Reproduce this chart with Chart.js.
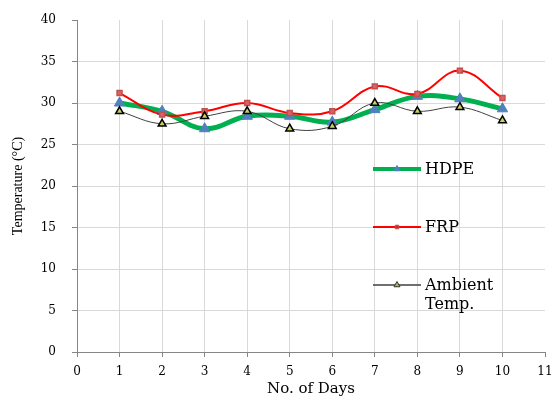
<!DOCTYPE html>
<html>
<head>
<meta charset="utf-8">
<script src="https://cdn.jsdelivr.net/npm/chart.js@4"></script>
<style>
  html, body { margin: 0; padding: 0; background: #fff; }
  #wrap { width: 553px; height: 404px; }
</style>
</head>
<body>
<div id="wrap"><canvas id="chart" width="553" height="404"></canvas></div>
<script>
// データ
const days = [1, 2, 3, 4, 5, 6, 7, 8, 9, 10];
const hdpe = [30.0, 29.0, 26.9, 28.4, 28.4, 27.7, 29.2, 30.8, 30.5, 29.3];
const frp = [31.2, 28.6, 29.0, 30.0, 28.8, 29.0, 32.0, 31.1, 33.9, 30.6];
const ambient = [29.0, 27.5, 28.4, 29.0, 26.9, 27.2, 30.0, 29.0, 29.5, 27.9];
const seriesNames = ["HDPE", "FRP", "Ambient\nTemp."];
const xMax = 11;
const yMax = 40;

const SERIF = "'Liberation Serif', serif";
const WIDE_SERIF = "'DejaVu Serif', serif";
const toPoints = (vals) => days.map((d, i) => ({ x: d, y: vals[i] }));

// 最大値のグリッド線は描かない
const gridColor = (max) => (c) => (c.tick && c.tick.value === max ? "rgba(0,0,0,0)" : "#D9D9D9");

/**
 * プロット内に凡例を描画するプラグイン
 */
const insideLegend = {
    id: "insideLegend",
    afterDraw(chart, args, opts) {
        const ctx = chart.ctx;
        ctx.save();
        ctx.font = "16px " + WIDE_SERIF;
        ctx.textBaseline = "middle";
        chart.data.datasets.forEach((ds, i) => {
            const y = opts.rows[i];
            const x0 = opts.x, x1 = opts.x + opts.lineLen;
            // 線
            ctx.strokeStyle = ds.borderColor;
            ctx.lineWidth = ds.legendLineWidth;
            ctx.beginPath();
            ctx.moveTo(x0, y);
            ctx.lineTo(x1, y);
            ctx.stroke();
            // マーカー
            ctx.fillStyle = ds.legendMarkerFill;
            ctx.strokeStyle = ds.legendMarkerStroke;
            ctx.lineWidth = 1;
            Chart.helpers.drawPoint(ctx, {
                pointStyle: ds.pointStyle,
                radius: ds.legendRadius,
                borderWidth: 1,
                rotation: 0
            }, (x0 + x1) / 2, y);
            // テキスト
            ctx.fillStyle = "#000";
            seriesNames[i].split("\n").forEach((t, k) => ctx.fillText(t, x1 + 4, y + 1 + k * 19));
        });
        ctx.restore();
    }
};

const ctx = document.getElementById("chart").getContext("2d");
new Chart(ctx, {
    type: "line",
    data: {
        datasets: [
            {
                label: "HDPE",
                data: toPoints(hdpe),
                borderColor: "#00B050",
                borderWidth: 5,
                pointStyle: "triangle",
                pointRadius: 6,
                pointBackgroundColor: "#4F81BD",
                pointBorderColor: "#4F81BD",
                pointBorderWidth: 1,
                legendLineWidth: 4,
                legendRadius: 3.5,
                legendMarkerFill: "#4F81BD",
                legendMarkerStroke: "#4F81BD",
                tension: 0.4,
                order: 3
            },
            {
                label: "FRP",
                data: toPoints(frp),
                borderColor: "#FF0000",
                borderWidth: 2,
                pointStyle: "rect",
                pointRadius: 3.5,
                pointBackgroundColor: "#E06060",
                pointBorderColor: "#C0504D",
                pointBorderWidth: 1.5,
                legendLineWidth: 2,
                legendRadius: 2.5,
                legendMarkerFill: "#E02020",
                legendMarkerStroke: "#C0504D",
                tension: 0.4,
                order: 2
            },
            {
                label: "Ambient Temp.",
                data: toPoints(ambient),
                borderColor: "#404040",
                borderWidth: 1,
                pointStyle: "triangle",
                pointRadius: 4.5,
                pointBackgroundColor: "#C8D060",
                pointBorderColor: "#000",
                pointBorderWidth: 1.5,
                legendLineWidth: 1.5,
                legendRadius: 3.5,
                legendMarkerFill: "#9BBB59",
                legendMarkerStroke: "#333",
                tension: 0.4,
                order: 1
            }
        ]
    },
    options: {
        responsive: false,
        animation: false,
        devicePixelRatio: 1,
        layout: { padding: { top: 20, right: 8, left: 10, bottom: 0 } },
        scales: {
            x: {
                type: "linear",
                min: 0,
                max: xMax,
                ticks: { stepSize: 1, color: "#000", font: { family: WIDE_SERIF, size: 12 }, padding: 8, maxRotation: 0 },
                grid: { color: gridColor(xMax), tickColor: "#868686", tickLength: 5 },
                border: { color: "#868686", width: 1 },
                title: { display: true, text: "No. of Days", color: "#000", font: { family: WIDE_SERIF, size: 15 }, padding: { top: 0, bottom: 6 } },
                afterFit: (s) => { s.height = 52; s.paddingLeft = 0; s.paddingRight = 0; }
            },
            y: {
                min: 0,
                max: yMax,
                ticks: { stepSize: 5, color: "#000", font: { family: WIDE_SERIF, size: 12 }, padding: 16 },
                grid: { color: gridColor(yMax), tickColor: "#868686", tickLength: 5 },
                border: { color: "#868686", width: 1 },
                title: { display: true, text: "Temperature (°C)", color: "#000", font: { family: SERIF, size: 14 }, padding: { top: 0, bottom: 0 } },
                afterFit: (s) => { s.width = 67; s.paddingTop = 0; s.paddingBottom = 0; }
            }
        },
        plugins: {
            legend: { display: false },
            tooltip: { enabled: false },
            insideLegend: { x: 373, lineLen: 48, rows: [169, 227, 285] }
        }
    },
    plugins: [insideLegend]
});
</script>
</body>
</html>
